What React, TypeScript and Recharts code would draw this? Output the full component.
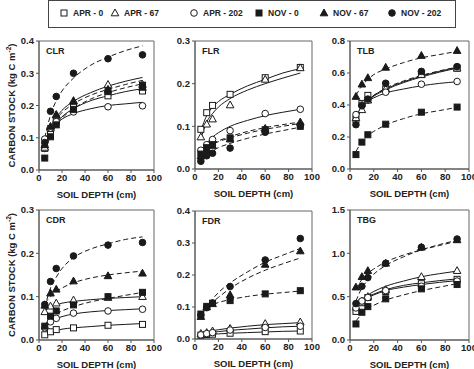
import React from "react";
import { ComposedChart, Line, Scatter, XAxis, YAxis, ReferenceArea } from "recharts";

const SERIES = ["APR - 0", "APR - 67", "APR - 202", "NOV - 0", "NOV - 67", "NOV - 202"];
const SHAPES = ["square", "triangle", "circle", "square", "triangle", "circle"];
const FILLED = [false, false, false, true, true, true];
const DEPTHS = [5, 10, 15, 30, 60, 90];
const FIT_DEPTHS = [5, 10, 15, 20, 30, 45, 60, 75, 90];
const X_TICKS = [0, 20, 40, 60, 80, 100];

// measured points, one row per series (SERIES order), one value per depth
const CLR_PTS = [
	[0.067, 0.11, 0.15, 0.195, 0.23, 0.245],
	[0.07, 0.13, 0.17, 0.215, 0.265, 0.265],
	[0.096, 0.13, 0.15, 0.18, 0.196, 0.199],
	[0.037, 0.103, 0.14, 0.188, 0.243, 0.263],
	[0.078, 0.135, 0.172, 0.213, 0.25, 0.256],
	[0.085, 0.182, 0.228, 0.3, 0.345, 0.357],
];
const CLR_FIT = [
	[0.07, 0.115, 0.145, 0.165, 0.19, 0.215, 0.23, 0.243, 0.252],
	[0.075, 0.13, 0.163, 0.185, 0.213, 0.24, 0.26, 0.275, 0.287],
	[0.095, 0.125, 0.145, 0.158, 0.175, 0.19, 0.2, 0.205, 0.21],
	[0.055, 0.105, 0.138, 0.16, 0.19, 0.22, 0.24, 0.255, 0.267],
	[0.08, 0.128, 0.158, 0.178, 0.205, 0.232, 0.25, 0.265, 0.278],
	[0.1, 0.17, 0.215, 0.245, 0.285, 0.325, 0.35, 0.37, 0.385],
];

const FLR_PTS = [
	[0.093, 0.132, 0.149, 0.175, 0.214, 0.238],
	[0.075, 0.105, 0.117, 0.15, 0.21, 0.237],
	[0.044, 0.057, 0.069, 0.09, 0.13, 0.14],
	[0.035, 0.05, 0.057, 0.073, 0.092, 0.1],
	[0.03, 0.045, 0.055, 0.07, 0.095, 0.11],
	[0.018, 0.031, 0.037, 0.049, 0.086, 0.102],
];
const FLR_FIT = [
	[0.09, 0.125, 0.145, 0.158, 0.175, 0.195, 0.21, 0.225, 0.235],
	[0.07, 0.11, 0.13, 0.145, 0.165, 0.185, 0.2, 0.213, 0.225],
	[0.04, 0.06, 0.075, 0.085, 0.1, 0.114, 0.125, 0.133, 0.14],
	[0.04, 0.05, 0.058, 0.064, 0.073, 0.084, 0.093, 0.1, 0.107],
	[0.035, 0.05, 0.06, 0.066, 0.076, 0.088, 0.097, 0.104, 0.11],
	[0.025, 0.035, 0.043, 0.05, 0.06, 0.072, 0.082, 0.09, 0.098],
];

const TLB_PTS = [
	[0.31, 0.41, 0.46, 0.5, 0.59, 0.63],
	[0.32, 0.37, 0.43, 0.5, 0.59, 0.63],
	[0.34, 0.4, 0.43, 0.48, 0.53, 0.547],
	[0.09, 0.168, 0.214, 0.28, 0.355, 0.387],
	[0.453, 0.53, 0.57, 0.635, 0.709, 0.74],
	[0.277, 0.395, 0.437, 0.536, 0.61, 0.64],
];
const TLB_FIT = [
	[0.31, 0.39, 0.43, 0.46, 0.5, 0.545, 0.58, 0.61, 0.635],
	[0.3, 0.38, 0.425, 0.455, 0.495, 0.54, 0.575, 0.605, 0.63],
	[0.33, 0.39, 0.425, 0.445, 0.475, 0.5, 0.52, 0.535, 0.545],
	[0.11, 0.17, 0.21, 0.235, 0.275, 0.315, 0.345, 0.365, 0.385],
	[0.46, 0.52, 0.56, 0.59, 0.625, 0.665, 0.695, 0.715, 0.735],
	[0.29, 0.38, 0.43, 0.46, 0.505, 0.55, 0.585, 0.613, 0.637],
];

const CDR_PTS = [
	[0.012, 0.019, 0.024, 0.028, 0.034, 0.036],
	[0.065, 0.078, 0.085, 0.092, 0.098, 0.1],
	[0.028, 0.042, 0.05, 0.062, 0.067, 0.071],
	[0.032, 0.055, 0.067, 0.081, 0.1, 0.11],
	[0.08, 0.108, 0.117, 0.136, 0.148, 0.154],
	[0.082, 0.135, 0.165, 0.194, 0.219, 0.225],
];
const CDR_FIT = [
	[0.014, 0.019, 0.022, 0.025, 0.028, 0.031, 0.034, 0.036, 0.038],
	[0.068, 0.076, 0.081, 0.085, 0.089, 0.093, 0.096, 0.098, 0.1],
	[0.03, 0.042, 0.049, 0.054, 0.06, 0.065, 0.068, 0.07, 0.072],
	[0.035, 0.05, 0.06, 0.067, 0.077, 0.088, 0.096, 0.103, 0.11],
	[0.085, 0.1, 0.112, 0.12, 0.132, 0.143, 0.15, 0.155, 0.159],
	[0.075, 0.12, 0.145, 0.165, 0.19, 0.21, 0.222, 0.232, 0.238],
];

const FDR_PTS = [
	[0.012, 0.014, 0.015, 0.018, 0.023, 0.025],
	[0.017, 0.02, 0.025, 0.033, 0.048, 0.053],
	[0.013, 0.017, 0.02, 0.028, 0.036, 0.04],
	[0.078, 0.102, 0.112, 0.12, 0.141, 0.151],
	[0.07, 0.1, 0.11, 0.138, 0.233, 0.275],
	[0.075, 0.098, 0.112, 0.164, 0.247, 0.314],
];
const FDR_FIT = [
	[0.012, 0.014, 0.015, 0.016, 0.018, 0.02, 0.022, 0.024, 0.025],
	[0.017, 0.022, 0.026, 0.029, 0.034, 0.04, 0.045, 0.048, 0.051],
	[0.014, 0.018, 0.021, 0.023, 0.027, 0.031, 0.035, 0.038, 0.04],
	[0.08, 0.097, 0.107, 0.114, 0.123, 0.133, 0.14, 0.145, 0.15],
	[0.065, 0.095, 0.115, 0.13, 0.158, 0.19, 0.215, 0.235, 0.253],
	[0.07, 0.1, 0.125, 0.145, 0.175, 0.21, 0.24, 0.262, 0.283],
];

const TBG_PTS = [
	[0.33, 0.43, 0.49, 0.56, 0.65, 0.7],
	[0.38, 0.45, 0.5, 0.58, 0.73, 0.8],
	[0.37, 0.45, 0.49, 0.57, 0.62, 0.68],
	[0.185, 0.32, 0.385, 0.475, 0.59, 0.64],
	[0.61, 0.73, 0.8, 0.885, 1.07, 1.155],
	[0.42, 0.62, 0.72, 0.885, 1.07, 1.165],
];
const TBG_FIT = [
	[0.37, 0.45, 0.5, 0.53, 0.58, 0.63, 0.66, 0.685, 0.705],
	[0.4, 0.47, 0.52, 0.56, 0.62, 0.68, 0.73, 0.765, 0.795],
	[0.38, 0.45, 0.49, 0.52, 0.57, 0.61, 0.64, 0.665, 0.685],
	[0.22, 0.3, 0.36, 0.4, 0.46, 0.52, 0.57, 0.61, 0.65],
	[0.58, 0.7, 0.77, 0.82, 0.9, 0.98, 1.04, 1.09, 1.14],
	[0.45, 0.6, 0.69, 0.76, 0.86, 0.96, 1.04, 1.1, 1.15],
];

const FONT = "'Liberation Sans', Arial, sans-serif";
const INK = "#1a1a1a";

const PANELS = [
	{ name: "CLR", pts: CLR_PTS, fit: CLR_FIT, ticks: [0, 0.1, 0.2, 0.3, 0.4], box: [39, 41, 115, 129], yLabel: true },
	{ name: "FLR", pts: FLR_PTS, fit: FLR_FIT, ticks: [0, 0.1, 0.2, 0.3], box: [195, 41, 117, 128], yLabel: false },
	{ name: "TLB", pts: TLB_PTS, fit: TLB_FIT, ticks: [0, 0.2, 0.4, 0.6, 0.8], box: [350, 41, 119, 128], yLabel: false },
	{ name: "CDR", pts: CDR_PTS, fit: CDR_FIT, ticks: [0, 0.1, 0.2, 0.3], box: [39, 210, 115, 130], yLabel: true },
	{ name: "FDR", pts: FDR_PTS, fit: FDR_FIT, ticks: [0, 0.1, 0.2, 0.3, 0.4], box: [195, 211, 117, 128], yLabel: false },
	{ name: "TBG", pts: TBG_PTS, fit: TBG_FIT, ticks: [0, 0.5, 1, 1.5], box: [350, 210, 119, 130], yLabel: false },
];

const Marker = ({ cx, cy, kind, filled }: any) => {
	const fill = filled ? INK : "#fff";
	if (kind === "square")
		return <rect x={cx - 3} y={cy - 3} width={6} height={6} fill={fill} stroke={INK} strokeWidth={1} />;
	if (kind === "triangle")
		return (
			<polygon
				points={`${cx},${cy - 4} ${cx + 3.8},${cy + 2.8} ${cx - 3.8},${cy + 2.8}`}
				fill={fill}
				stroke={INK}
				strokeWidth={1}
			/>
		);
	return <circle cx={cx} cy={cy} r={3.3} fill={fill} stroke={INK} strokeWidth={1} />;
};

const YLabel = ({ viewBox }: any) => {
	const x = viewBox.x + 12;
	const y = viewBox.y + viewBox.height / 2;
	return (
		<text
			x={x}
			y={y}
			transform={`rotate(-90, ${x}, ${y})`}
			textAnchor="middle"
			dominantBaseline="central"
			fontFamily={FONT}
			fontSize={9.5}
			fontWeight="bold"
			fill="#222"
		>
			CARBON STOCK (kg C m
			<tspan dy={-3} fontSize={6.5}>
				-2
			</tspan>
			<tspan dy={3}>)</tspan>
		</text>
	);
};

const XLabel = ({ viewBox }: any) => (
	<text
		x={viewBox.x + viewBox.width / 2}
		y={viewBox.y + 28}
		textAnchor="middle"
		fontFamily={FONT}
		fontSize={9.5}
		fontWeight="bold"
		fill="#222"
	>
		SOIL DEPTH (cm)
	</text>
);

const tickStyle = { fontFamily: FONT, fontSize: 9.5, fontWeight: "bold", fill: "#222" } as const;

const Panel = ({ panel }: { panel: (typeof PANELS)[number] }) => {
	const [x0, y0, w, h] = panel.box;
	const yMax = panel.ticks[panel.ticks.length - 1];
	return (
		<div style={{ position: "absolute", left: x0 - 40, top: y0 - 10 }}>
			<ComposedChart width={w + 56} height={h + 50} margin={{ top: 10, right: 16, left: 0, bottom: 0 }}>
				<XAxis
					type="number"
					dataKey="x"
					domain={[0, 100]}
					ticks={X_TICKS}
					interval={0}
					height={40}
					tickSize={3}
					tickMargin={1}
					tick={tickStyle}
					axisLine={{ stroke: "#555" }}
					tickLine={{ stroke: "#555" }}
					label={{ content: (p: any) => <XLabel {...p} /> }}
				/>
				<YAxis
					type="number"
					dataKey="y"
					domain={[0, yMax]}
					ticks={panel.ticks}
					interval={0}
					width={40}
					tickSize={3}
					tickMargin={2}
					tick={tickStyle}
					tickFormatter={(v: number) => v.toFixed(1)}
					axisLine={{ stroke: "#555" }}
					tickLine={{ stroke: "#555" }}
					label={panel.yLabel ? { content: (p: any) => <YLabel {...p} /> } : undefined}
				/>
				<ReferenceArea
					x1={0}
					x2={100}
					y1={0}
					y2={yMax}
					fill="none"
					stroke="#666"
					strokeWidth={1}
					label={{
						value: panel.name,
						position: "insideTopLeft",
						offset: 7,
						style: { fontFamily: FONT, fontSize: 9, fontWeight: "bold", fill: "#222" },
					}}
				/>
				{SERIES.map((s, i) => (
					<Line
						key={"fit" + s}
						data={FIT_DEPTHS.map((d, j) => ({ x: d, y: panel.fit[i][j] }))}
						dataKey="y"
						type="monotone"
						dot={false}
						activeDot={false}
						stroke={INK}
						strokeWidth={1}
						strokeDasharray={FILLED[i] ? "5 3" : undefined}
						isAnimationActive={false}
					/>
				))}
				{SERIES.map((s, i) => (
					<Scatter
						key={"pts" + s}
						name={s}
						data={DEPTHS.map((d, j) => ({ x: d, y: panel.pts[i][j] }))}
						dataKey="y"
						shape={(p: any) => <Marker cx={p.cx} cy={p.cy} kind={SHAPES[i]} filled={FILLED[i]} />}
						isAnimationActive={false}
					/>
				))}
			</ComposedChart>
		</div>
	);
};

const LEGEND_X = [63, 114, 193, 258, 323, 391];

const LegendBox = () => (
	<div
		style={{
			position: "absolute",
			left: 48,
			top: 0,
			width: 408,
			height: 28,
			border: "1.5px solid #444",
			boxSizing: "border-box",
		}}
	>
		{SERIES.map((s, i) => (
			<div
				key={s}
				style={{
					position: "absolute",
					left: LEGEND_X[i] - 48 - 5,
					top: 7,
					display: "flex",
					alignItems: "center",
					fontFamily: FONT,
					fontSize: 8.5,
					fontWeight: "bold",
					color: "#222",
					whiteSpace: "nowrap",
				}}
			>
				<svg width={10} height={10}>
					<Marker cx={5} cy={5} kind={SHAPES[i]} filled={FILLED[i]} />
				</svg>
				<span style={{ marginLeft: 4 }}>{s}</span>
			</div>
		))}
	</div>
);

export default function App() {
	return (
		<div style={{ position: "absolute", left: 0, top: 0, width: 474, height: 369, background: "#fff" }}>
			<LegendBox />
			{PANELS.map((p) => (
				<Panel key={p.name} panel={p} />
			))}
		</div>
	);
}
